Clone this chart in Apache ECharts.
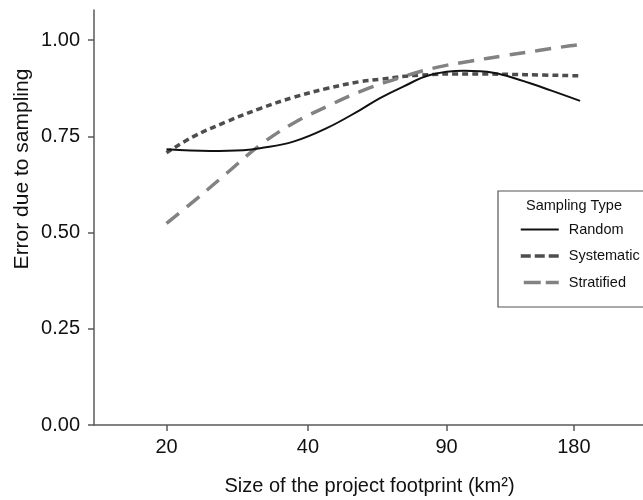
<!DOCTYPE html>
<html><head><meta charset="utf-8">
<script src="https://cdn.jsdelivr.net/npm/echarts@6/dist/echarts.min.js"></script>
<style>html,body{margin:0;padding:0;background:#fff}#c{width:643px;height:500px}</style>
</head><body><div id="c"></div>
<script>
// Tick labels (x positions on the plotting scale) and y ticks
const xTickLabels = ['20', '40', '90', '180'];
const xTickPos = [1, 2.01, 3.0, 3.91];
const yTicks = [0, 0.25, 0.5, 0.75, 1.0];
const seriesNames = ['Random', 'Systematic', 'Stratified'];

// Series values (x on the plotting scale, y = error)
const randomX = [1.0, 1.311, 1.549, 1.668, 1.906, 2.144, 2.382, 2.525, 2.691, 2.882, 3.124, 3.334, 3.525, 3.739, 3.954];
const randomY = [0.716, 0.712, 0.714, 0.719, 0.736, 0.771, 0.818, 0.849, 0.879, 0.909, 0.920, 0.915, 0.896, 0.870, 0.842];

const systematicX = [1.0, 1.191, 1.430, 1.668, 1.906, 2.144, 2.382, 2.525, 2.811, 3.168, 3.561, 3.954];
const systematicY = [0.707, 0.749, 0.788, 0.822, 0.851, 0.874, 0.892, 0.898, 0.909, 0.912, 0.910, 0.907];

const stratifiedX = [1.0, 1.191, 1.430, 1.668, 1.906, 2.144, 2.382, 2.691, 2.930, 3.168, 3.406, 3.644, 3.882, 3.954];
const stratifiedY = [0.524, 0.580, 0.654, 0.727, 0.784, 0.827, 0.866, 0.905, 0.929, 0.945, 0.959, 0.972, 0.985, 0.988];

const FONT = "'Liberation Sans', Arial, Helvetica, sans-serif";
const zip = (xs, ys) => xs.map((x, i) => [x, ys[i]]);

const chart = echarts.init(document.getElementById('c'), null, {renderer: 'canvas'});
const axisColor = '#5a5a5a';

chart.setOption({
  animation: false,
  backgroundColor: '#ffffff',
  textStyle: {fontFamily: FONT},
  grid: {left: 94, top: 10, bottom: 75, right: -41.5, containLabel: false, outerBoundsMode: 'none'},
  xAxis: {
    type: 'value', min: 0.482, max: 4.7,
    axisLine: {show: true, onZero: false, lineStyle: {color: axisColor, width: 1.5}},
    axisTick: {show: true, length: 6, customValues: xTickPos, lineStyle: {color: axisColor, width: 1.5}},
    axisLabel: {
      customValues: xTickPos, margin: 12, fontSize: 20, color: '#111', fontFamily: FONT,
      formatter: v => { const i = xTickPos.findIndex(p => Math.abs(p - v) < 1e-6); return i >= 0 ? xTickLabels[i] : ''; }
    },
    splitLine: {show: false}
  },
  yAxis: {
    type: 'value', min: 0, max: 1.078,
    axisLine: {show: true, lineStyle: {color: axisColor, width: 1.5}},
    axisTick: {show: true, length: 6, customValues: yTicks, lineStyle: {color: axisColor, width: 1.5}},
    axisLabel: {customValues: yTicks, margin: 14, fontSize: 20, color: '#111', fontFamily: FONT,
      formatter: v => v.toFixed(2)},
    splitLine: {show: false}
  },
  legend: {
    orient: 'vertical', left: 514, top: 217,
    itemWidth: 38, itemHeight: 14, itemGap: 11.5,
    data: [
      {name: seriesNames[0]},
      {name: seriesNames[1], lineStyle: {type: [10, 4], width: 3.5}},
      {name: seriesNames[2], lineStyle: {type: [17, 5], dashOffset: 19, width: 3.5}}
    ],
    itemStyle: {opacity: 0, borderWidth: 0},
    lineStyle: {width: 'inherit'},
    textStyle: {fontSize: 14.5, color: '#111', fontFamily: FONT, padding: [0, 0, 0, 5]}
  },
  graphic: [
    {type: 'rect', shape: {x: 498, y: 191, width: 220, height: 116}, style: {fill: '#fff', stroke: '#555', lineWidth: 1.2}, z: -1},
    {type: 'text', x: 574, y: 206, style: {text: 'Sampling Type', fontSize: 14.5, fill: '#111', fontFamily: FONT, align: 'center', verticalAlign: 'middle'}},
    {type: 'text', x: 369.5, y: 486, style: {text: 'Size of the project footprint (km²)', fontSize: 20, fill: '#111', fontFamily: FONT, align: 'center', verticalAlign: 'middle'}},
    {type: 'text', x: 22, y: 169, rotation: Math.PI / 2, style: {text: 'Error due to sampling', fontSize: 21, fill: '#111', fontFamily: FONT, align: 'center', verticalAlign: 'middle'}}
  ],
  series: [
    {name: seriesNames[0], type: 'line', data: zip(randomX, randomY), smooth: 0.4, symbol: 'none', z: 3,
      lineStyle: {color: '#111', width: 2, type: 'solid'}, itemStyle: {color: '#111'}},
    {name: seriesNames[1], type: 'line', data: zip(systematicX, systematicY), smooth: 0.4, symbol: 'none', z: 2,
      lineStyle: {color: '#4d4d4d', width: 3.5, type: [6, 4]}, itemStyle: {color: '#4d4d4d'}},
    {name: seriesNames[2], type: 'line', data: zip(stratifiedX, stratifiedY), smooth: 0.4, symbol: 'none', z: 2,
      lineStyle: {color: '#828282', width: 3.5, type: [16, 10]}, itemStyle: {color: '#828282'}}
  ]
});
</script>
</body></html>
